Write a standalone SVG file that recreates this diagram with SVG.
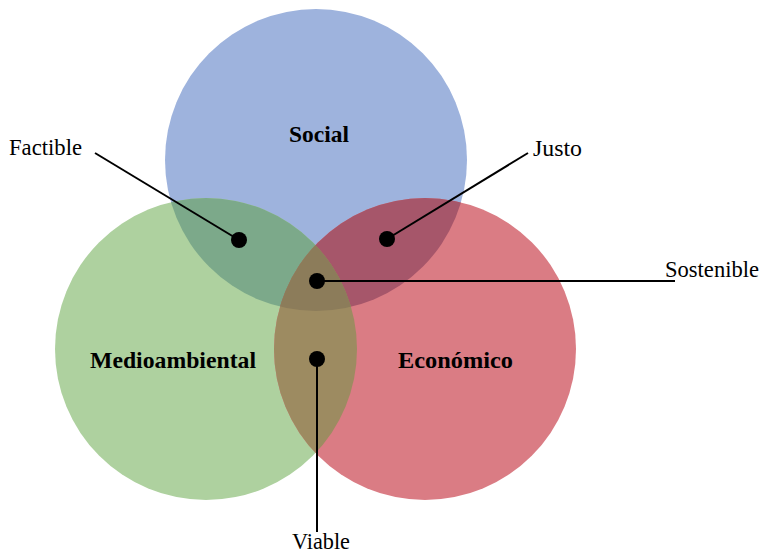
<svg xmlns="http://www.w3.org/2000/svg" width="761" height="554" viewBox="0 0 761 554">
  <style>
    .lbl { font-family: "Liberation Serif", "Times New Roman", serif; font-size: 23px; fill: #000; }
    .ttl { font-family: "Liberation Serif", "Times New Roman", serif; font-size: 23px; font-weight: bold; fill: #000; }
    .lead { stroke: #000; stroke-width: 2; fill: none; }
    .dot { fill: #000; }
  </style>
  <defs>
    <circle id="cSocial" cx="316" cy="160" r="151"/>
    <circle id="cMedio" cx="206" cy="349" r="151"/>
    <circle id="cEcon" cx="425" cy="349" r="151"/>
    <clipPath id="clipSocial"><use href="#cSocial"/></clipPath>
    <clipPath id="clipMedio"><use href="#cMedio"/></clipPath>
  </defs>
  <rect width="761" height="554" fill="#fff"/>

  <!-- base circles -->
  <g id="social">
    <use href="#cSocial" fill="#9EB3DD"/>
  </g>
  <g id="medioambiental">
    <use href="#cMedio" fill="#AED19F"/>
  </g>
  <g id="economico">
    <use href="#cEcon" fill="#DA7C84"/>
  </g>

  <!-- overlaps -->
  <g id="overlaps">
    <use href="#cMedio" fill="#7CA98A" clip-path="url(#clipSocial)"/>
    <use href="#cEcon" fill="#A6566A" clip-path="url(#clipSocial)"/>
    <use href="#cEcon" fill="#9D8B61" clip-path="url(#clipMedio)"/>
    <g clip-path="url(#clipSocial)">
      <use href="#cEcon" fill="#8C7C5A" clip-path="url(#clipMedio)"/>
    </g>
  </g>

  <!-- circle titles -->
  <g id="titles">
    <text class="ttl" x="289" y="142" textLength="60" lengthAdjust="spacingAndGlyphs">Social</text>
    <text class="ttl" x="90" y="368" textLength="166" lengthAdjust="spacingAndGlyphs">Medioambiental</text>
    <text class="ttl" x="398" y="368" textLength="115" lengthAdjust="spacingAndGlyphs">Económico</text>
  </g>

  <!-- leader lines -->
  <g id="connectors">
    <line class="lead" x1="95" y1="153" x2="239" y2="240"/>
    <line class="lead" x1="528" y1="153" x2="387" y2="239"/>
    <line class="lead" x1="317" y1="281" x2="675" y2="281" stroke-width="1.6"/>
    <line class="lead" x1="317" y1="359" x2="317" y2="532"/>
    <circle class="dot" cx="239" cy="240" r="8"/>
    <circle class="dot" cx="387" cy="239" r="8"/>
    <circle class="dot" cx="317" cy="281" r="8"/>
    <circle class="dot" cx="317" cy="359" r="8"/>
  </g>

  <!-- outer labels -->
  <g id="labels">
    <text class="lbl" x="9" y="155" textLength="73" lengthAdjust="spacingAndGlyphs">Factible</text>
    <text class="lbl" x="533" y="156" textLength="49" lengthAdjust="spacingAndGlyphs">Justo</text>
    <text class="lbl" x="665" y="277" textLength="94" lengthAdjust="spacingAndGlyphs">Sostenible</text>
    <text class="lbl" x="292" y="549" textLength="58" lengthAdjust="spacingAndGlyphs">Viable</text>
  </g>
</svg>
